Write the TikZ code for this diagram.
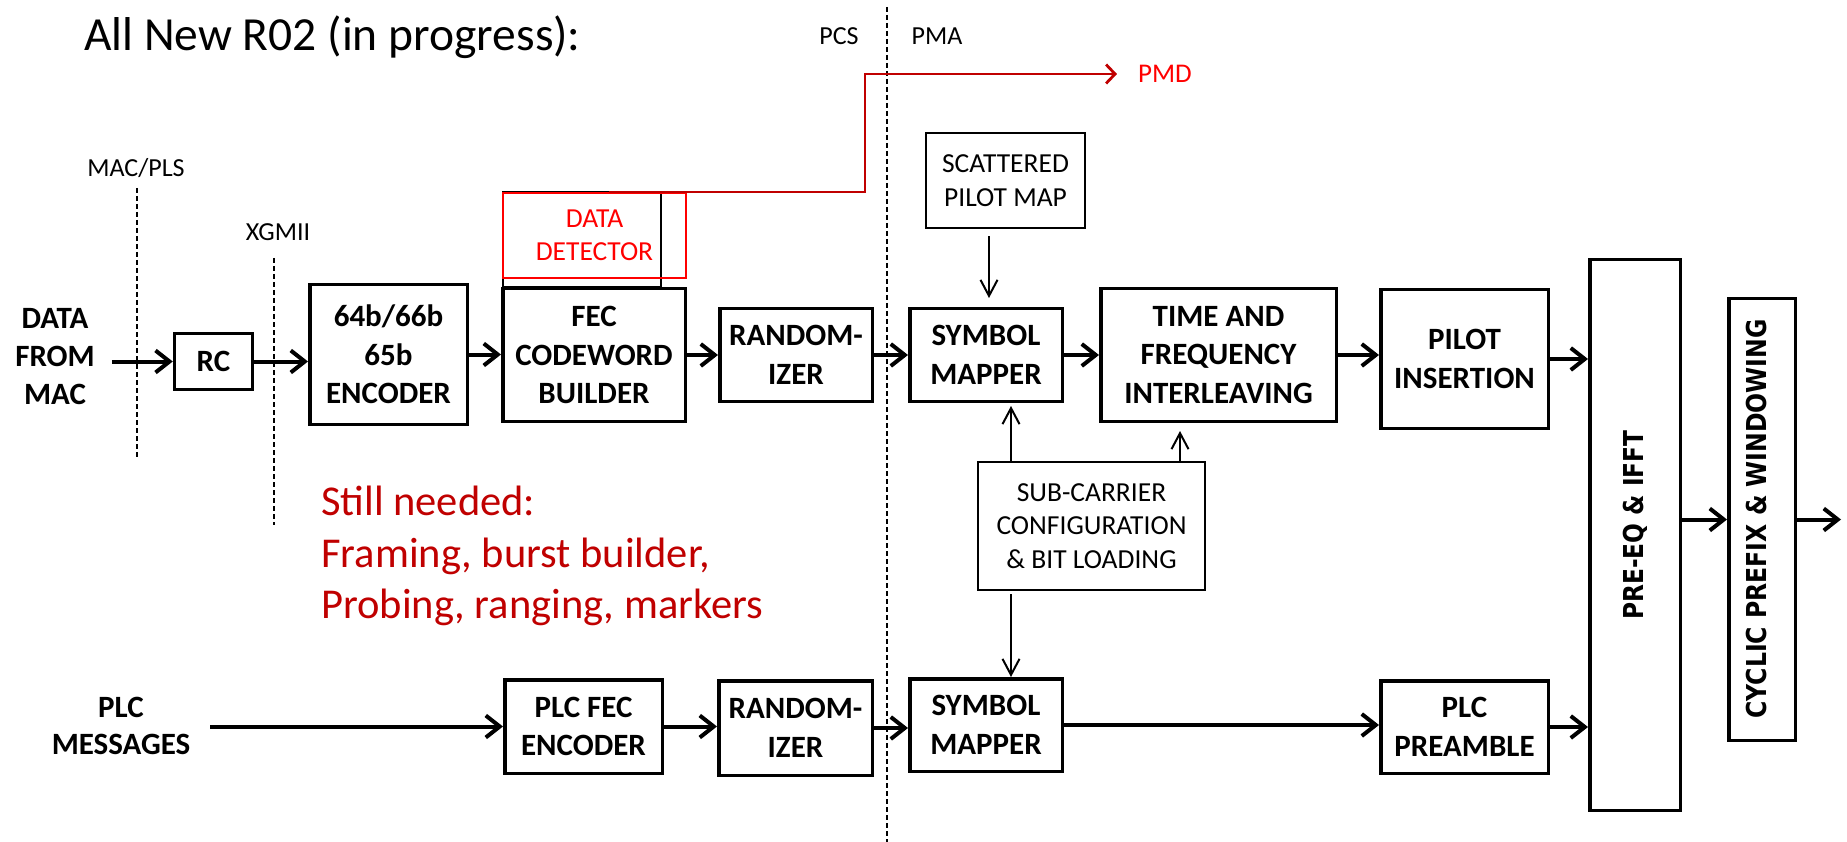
\documentclass[tikz,border=0pt]{standalone}
\usepackage{fontspec}
\setmainfont{Carlito}
\newfontfamily\vfont{DejaVu Sans}
\usetikzlibrary{arrows.meta}
\newcommand\myfs[2]{\fontsize{#1pt}{#2pt}\selectfont}
\definecolor{dred}{RGB}{192,0,0}
\definecolor{bred}{RGB}{255,0,0}
\begin{document}
\begin{tikzpicture}[x=1pt,y=-1pt,
 blk/.style={draw, line width=3.5pt, inner sep=0pt, align=center, font=\myfs{31}{38.5}\bfseries},
 tbx/.style={draw, line width=2.2pt, inner sep=0pt, align=center, font=\myfs{27.5}{33.5}},
 lbl/.style={inner sep=0pt, font=\myfs{26}{31}},
 btxt/.style={inner sep=0pt, align=center, font=\myfs{31}{38}\bfseries},
 thk/.style={line width=4pt, -{Straight Barb[length=14pt,width=22pt]}},
 thn/.style={line width=2pt, -{Straight Barb[length=16pt,width=17pt]}},
 sepline/.style={line width=1.4pt, dash pattern=on 5pt off 3pt},
 vtxt/.style={rotate=90, inner sep=0pt, font=\vfont\bfseries\myfs{27.4}{33}},
 redline/.style={draw=dred, line width=2.8pt, -{Straight Barb[length=9pt,width=19pt]}},
]
\fill[white] (0,0) rectangle (1847,842);
\useasboundingbox (0,0) rectangle (1847,842);

% title and labels
\node[anchor=base west, inner sep=0pt, font=\myfs{47.5}{56}] (title) at (84,51) {All New R02 (in progress):};
\node[lbl] (macpls) at (136,168) {MAC/PLS};
\node[lbl] (xgmii) at (278,232) {XGMII};
\node[lbl] (pcs) at (839,36) {PCS};
\node[lbl] (pma) at (937,36) {PMA};
\node[lbl, text=bred, font=\myfs{27}{32}] (pmd) at (1165,74) {PMD};

% layer boundaries
\draw[sepline] (137,188) -- (137,457);
\draw[sepline] (274,258) -- (274,525);
\draw[sepline] (887,7) -- (887,842);

% left texts
\node[btxt] (dfm) at (55,357) {DATA\\FROM\\MAC};
\node[btxt, font=\myfs{31}{37}\bfseries] (plcm) at (121,726) {PLC\\MESSAGES};

% data detector
\node[draw, line width=2pt, inner sep=0pt, minimum width=158pt, minimum height=95pt] (ddblack) at (582,240) {};
\node[draw=bred, line width=2pt, inner sep=0pt, minimum width=183pt, minimum height=85pt, align=center, text=bred, font=\myfs{27.5}{33}] (ddred) at (594.5,235.5) {DATA\\DETECTOR};

% top row
\node[blk, minimum width=78pt, minimum height=56pt] (rc) at (213.5,361.5) {RC};
\node[blk, minimum width=157.5pt, minimum height=139.5pt] (enc) at (388.5,354.5) {64b/66b\\65b\\ENCODER};
\node[blk, minimum width=182.5pt, minimum height=132.5pt] (fec) at (594,355) {FEC\\CODEWORD\\BUILDER};
\node[blk, minimum width=152.5pt, minimum height=92.5pt] (rand1) at (796,355) {RANDOM-\\IZER};
\node[blk, minimum width=152.5pt, minimum height=92.5pt] (sym1) at (986,355) {SYMBOL\\MAPPER};
\node[tbx, minimum width=159pt, minimum height=95pt] (scat) at (1005.5,180.5) {SCATTERED\\PILOT MAP};
\node[blk, minimum width=235.5pt, minimum height=132.5pt] (tf) at (1218.5,355) {TIME AND\\FREQUENCY\\INTERLEAVING};
\node[blk, minimum width=167.5pt, minimum height=138.5pt] (pilot) at (1464.5,359) {PILOT\\INSERTION};
\node[blk, minimum width=90.5pt, minimum height=550.5pt] (preeq) at (1635,535) {};
\node[blk, minimum width=66.5pt, minimum height=441.5pt] (cyc) at (1762,519.5) {};
\node[vtxt] (preeqt) at (1635,525) {\scalebox{0.85}[1]{PRE-EQ \& IFFT}};
\node[vtxt] (cyct) at (1757,519) {\scalebox{0.86}[1]{CYCLIC PREFIX \& WINDOWING}};
\node[tbx, minimum width=227pt, minimum height=128pt] (sub) at (1091.5,526) {SUB-CARRIER\\CONFIGURATION\\\& BIT LOADING};

% bottom row
\node[blk, minimum width=157.5pt, minimum height=93.5pt] (plcfec) at (583.5,726.5) {PLC FEC\\ENCODER};
\node[blk, minimum width=153.5pt, minimum height=94.5pt] (rand2) at (795.5,728) {RANDOM-\\IZER};
\node[blk, minimum width=152.5pt, minimum height=92.5pt] (sym2) at (986,725) {SYMBOL\\MAPPER};
\node[blk, minimum width=167.5pt, minimum height=92.5pt] (plcpre) at (1464.5,727) {PLC\\PREAMBLE};

% still needed
\node[anchor=west, align=left, text=dred, inner sep=0pt, font=\myfs{42.5}{51.5}] (still) at (321,556) {Still needed:\\Framing, burst builder,\\Probing, ranging, markers};

% helper coordinates
\coordinate (dfmo) at ([xshift=17pt]dfm.east);
\coordinate (plcmo) at ([xshift=20pt]plcm.east);
\coordinate (out) at (1841,519.5);
\coordinate (u0) at (989,0);
\coordinate (u1) at (1011,0);
\coordinate (u2) at (1180,0);
\coordinate (u3) at (609,0);
\coordinate (u4) at (865,0);

% thick connectors
\draw[thk] (dfmo |- rc.west) -- (rc.west);
\draw[thk] (rc.east) -- (rc.east -| enc.west);
\draw[thk] (enc.east) -- (enc.east -| fec.west);
\draw[thk] (fec.east) -- (fec.east -| rand1.west);
\draw[thk] (rand1.east) -- (rand1.east -| sym1.west);
\draw[thk] (sym1.east) -- (sym1.east -| tf.west);
\draw[thk] (tf.east) -- (tf.east -| pilot.west);
\draw[thk] (pilot.east) -- (pilot.east -| preeq.west);
\draw[thk] (cyc.west -| preeq.east) -- (cyc.west);
\draw[thk] (cyc.east) -- (out);
\draw[thk] (plcmo |- plcfec.west) -- (plcfec.west);
\draw[thk] (plcfec.east) -- (plcfec.east -| rand2.west);
\draw[thk] (rand2.east) -- (rand2.east -| sym2.west);
\draw[thk] (sym2.east) -- (sym2.east -| plcpre.west);
\draw[thk] (plcpre.east) -- (plcpre.east -| preeq.west);

% thin connectors
\draw[thn, shorten <=7pt, shorten >=9pt] (scat.south -| u0) -- (sym1.north -| u0);
\draw[thn, shorten >=3pt] (sub.north -| u1) -- (sym1.south -| u1);
\draw[thn, shorten >=8pt] (sub.north -| u2) -- (tf.south -| u2);
\draw[thn, shorten <=3pt] (sub.south -| u1) -- (sym2.north -| u1);

% red connector to PMD
\draw[redline, shorten >=21pt] (ddred.north -| u3) -- (ddred.north -| u4) -- (u4 |- pmd.west) -- (pmd.west);
\end{tikzpicture}
\end{document}
